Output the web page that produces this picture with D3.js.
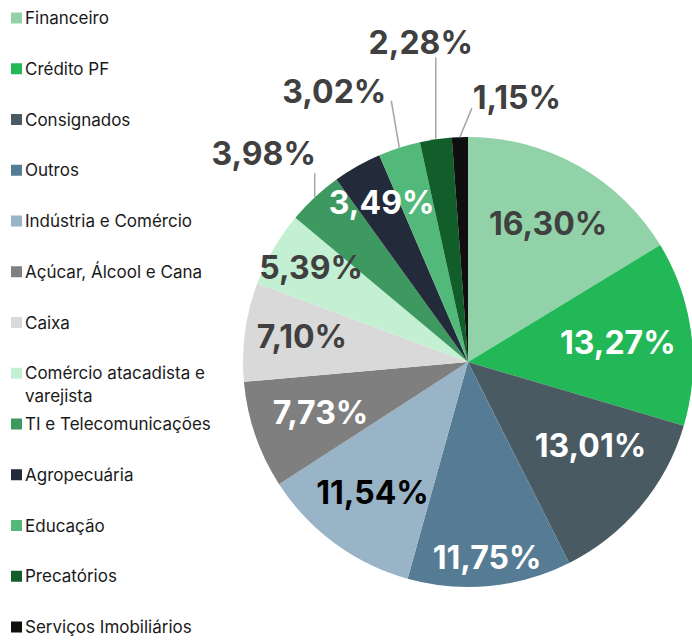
<!DOCTYPE html>
<html>
<head>
<meta charset="utf-8">
<script src="https://cdn.jsdelivr.net/npm/d3@7"></script>
<style>
  body { margin: 0; background: #fff; }
  text { font-family: Inter, "Noto Sans", sans-serif; }
</style>
</head>
<body>
<div class="pie_chart"></div>
<script>
// data
const categories = [
    "Financeiro", "Crédito PF", "Consignados", "Outros", "Indústria e Comércio",
    "Açúcar, Álcool e Cana", "Caixa", "Comércio atacadista e varejista",
    "TI e Telecomunicações", "Agropecuária", "Educação", "Precatórios",
    "Serviços Imobiliários"
]
const shares = [16.30, 13.27, 13.01, 11.75, 11.54, 7.73, 7.10, 5.39, 3.98, 3.49, 3.02, 2.28, 1.15]

const colors = [
    "#92d2a8", "#22b858", "#4a5a62", "#557c94", "#98b4c6",
    "#7f7f7f", "#d9d9d9", "#c3f0d2", "#3e9960", "#232a3a",
    "#52b97b", "#115e2b", "#0f0f0f"
]
const labelColors = [
    "#404040", "#ffffff", "#ffffff", "#ffffff", "#000000",
    "#ffffff", "#404040", "#404040", "#404040", "#ffffff",
    "#404040", "#404040", "#404040"
]

// label layout: inside labels -> radius + angle shift (deg)
// outside labels -> leader line shift and text shift (px)
const labelLayout = [
    { r: 160, da: 0.7 },
    { r: 151, da: 0.2 },
    { r: 148, da: -5.7 },
    { r: 196, da: 0 },
    { r: 162, da: -0.2 },
    { r: 156, da: 0 },
    { r: 168, da: 1 },
    { r: 183, da: 0.8 },
    { out: true, line: [0, -24], text: [-51, -20] },
    { r: 181, da: 1 },
    { out: true, line: [-8, -47], text: [-57, -9] },
    { out: true, line: [0, -82], text: [-15, -15] },
    { out: true, line: [12, -29], text: [45, -11] }
]

const dataset = categories.map((c, i) => ({ category: c, value: shares[i], i: i }))

let dimensions = {
    width: 692,
    height: 641,
    cx: 468,
    cy: 362,
    radius: 225
}

const wrapper = d3.select(".pie_chart")
    .append("svg")
    .attr("width", dimensions.width)
    .attr("height", dimensions.height)

// pie
const pie = d3.pie()
    .sort(null)
    .value(d => d.value)

const arcs = pie(dataset)

const arc = d3.arc()
    .innerRadius(0)
    .outerRadius(dimensions.radius)

const bounds = wrapper.append("g")
    .attr("transform", `translate(${dimensions.cx},${dimensions.cy})`)

bounds.selectAll("path")
    .data(arcs)
    .join("path")
    .attr("d", arc)
    .attr("fill", d => colors[d.data.i])

const polar = (r, a) => [r * Math.sin(a), -r * Math.cos(a)]
const fmt = v => v.toFixed(2).replace(".", ",") + "%"

// labels
arcs.forEach(d => {
    const lay = labelLayout[d.data.i]
    const mid = (d.startAngle + d.endAngle) / 2
    let pos
    if (lay.out) {
        const start = polar(dimensions.radius, mid)
        const end = [start[0] + lay.line[0], start[1] + lay.line[1]]
        bounds.append("line")
            .attr("x1", start[0]).attr("y1", start[1])
            .attr("x2", end[0]).attr("y2", end[1])
            .attr("stroke", "#a6a6a6")
            .attr("stroke-width", 1.5)
        pos = [end[0] + lay.text[0], end[1] + lay.text[1]]
    } else {
        pos = polar(lay.r, mid + lay.da * Math.PI / 180)
    }
    bounds.append("text")
        .attr("x", pos[0])
        .attr("y", pos[1])
        .attr("text-anchor", "middle")
        .attr("dominant-baseline", "central")
        .attr("font-size", 32)
        .attr("font-weight", 700)
        .attr("fill", labelColors[d.data.i])
        .text(fmt(d.data.value))
})

// legend
const legendY = d3.scalePoint()
    .domain(d3.range(categories.length))
    .range([18, 627])

const legend = wrapper.append("g")
    .selectAll("g")
    .data(dataset)
    .join("g")
    .attr("transform", d => `translate(11,${legendY(d.i)})`)

legend.append("rect")
    .attr("x", 0)
    .attr("y", -5.5)
    .attr("width", 11)
    .attr("height", 11)
    .attr("fill", d => colors[d.i])

legend.append("text")
    .attr("x", 14)
    .attr("y", 0)
    .attr("font-size", 17)
    .attr("fill", "#1a1a1a")
    .attr("dominant-baseline", "central")
    .each(function(d) {
        const t = d3.select(this)
        // wrap the long label like the original
        const lines = d.category === "Comércio atacadista e varejista"
            ? ["Comércio atacadista e", "varejista"] : [d.category]
        lines.forEach((l, k) => {
            t.append("tspan").attr("x", 14).attr("dy", k === 0 ? 0 : 23).text(l)
        })
    })
</script>
</body>
</html>
